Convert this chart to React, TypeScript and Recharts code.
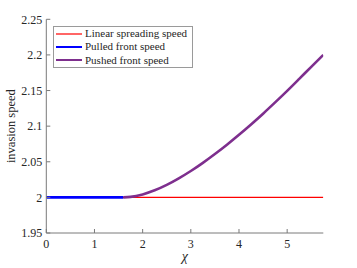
import React from 'react';
import { LineChart, Line, XAxis, YAxis, Legend } from 'recharts';

const linearX = [0, 5.75];
const linearY = [2, 2];
const pulledX = [0, 1.6];
const pulledY = [2, 2];
const pushedX = [1.6, 1.75, 2.0, 2.25, 2.5, 2.75, 3.0, 3.25, 3.5, 3.75, 4.0, 4.25, 4.5, 4.75, 5.0, 5.25, 5.5, 5.75];
const pushedY = [2.0, 2.0007, 2.0042, 2.0099, 2.0175, 2.0267, 2.037, 2.0485, 2.0609, 2.074, 2.0879, 2.1024, 2.1175, 2.1333, 2.1495, 2.1663, 2.1833, 2.2];
const xTicks = [0, 1, 2, 3, 4, 5];
const yTicks = [1.95, 2, 2.05, 2.1, 2.15, 2.2, 2.25];
const seriesNames = ['Linear spreading speed', 'Pulled front speed', 'Pushed front speed'];
const seriesColors = ['#ff0000', '#0000ff', '#7e2f8e'];
const legendColors = ['#ff6666', '#0000ff', '#7e2f8e'];
const seriesWidths = [1.3, 2.6, 2.6];

const zip = (xs: number[], ys: number[]) => xs.map((x, i) => ({ x, y: ys[i] }));
const linearData = zip(linearX, linearY);
const pulledData = zip(pulledX, pulledY);
const pushedData = zip(pushedX, pushedY);

const FONT = 'Liberation Serif';
const AXIS = '#7a7a7a';
const TEXT = '#262626';

const LegendBox = () => (
  <div
    style={{
      border: '1px solid #9a9a9a',
      background: '#fff',
      width: 138,
      height: 40,
      boxSizing: 'content-box',
      fontFamily: FONT,
      fontSize: 11,
      color: TEXT,
    }}
  >
    {seriesNames.map((n, i) => (
      <div key={n} style={{ display: 'flex', alignItems: 'center', height: 13.4, lineHeight: '13.4px' }}>
        <svg width={30} height={6} style={{ marginLeft: 1 }}>
          <line x1={1} x2={27} y1={3} y2={3} stroke={legendColors[i]} strokeWidth={2} />
        </svg>
        <span style={{ whiteSpace: 'nowrap' }}>{n}</span>
      </div>
    ))}
  </div>
);

export default function App() {
  return (
    <div style={{ position: 'absolute', left: 0, top: 0, fontFamily: FONT }}>
      <LineChart
        width={357}
        height={268}
        margin={{ top: 19.3, right: 33.7, bottom: 10, left: 10.3 }}
        style={{ fontFamily: FONT }}
      >
        <XAxis
          xAxisId="b"
          type="number"
          dataKey="x"
          domain={[0, 5.75]}
          ticks={xTicks}
          allowDataOverflow
          height={25}
          stroke={AXIS}
          tickSize={-4}
          tickMargin={10}
          tick={{ fill: TEXT, fontFamily: FONT, fontSize: 12 }}
          label={{ value: 'χ', position: 'bottom', offset: -7, style: { fontFamily: FONT, fontSize: 14, fontStyle: 'italic', fill: TEXT } }}
        />
        <XAxis
          xAxisId="t"
          orientation="top"
          type="number"
          dataKey="x"
          domain={[0, 5.75]}
          ticks={xTicks}
          allowDataOverflow
          height={0}
          stroke={AXIS}
          tickSize={-4}
          tick={false}
        />
        <YAxis
          yAxisId="l"
          type="number"
          domain={[1.95, 2.25]}
          ticks={yTicks}
          allowDataOverflow
          width={36}
          stroke={AXIS}
          tickSize={-4}
          tickMargin={8}
          tick={{ fill: TEXT, fontFamily: FONT, fontSize: 12 }}
          label={{ value: 'invasion speed', angle: -90, position: 'insideLeft', offset: 0.5, style: { textAnchor: 'middle', fontFamily: FONT, fontSize: 12.5, fill: TEXT } }}
        />
        <YAxis
          yAxisId="r"
          orientation="right"
          type="number"
          domain={[1.95, 2.25]}
          ticks={yTicks}
          allowDataOverflow
          width={0}
          stroke={AXIS}
          tickSize={-4}
          tick={false}
        />
        <Legend
          layout="vertical"
          align="center"
          verticalAlign="middle"
          content={<LegendBox />}
          wrapperStyle={{ left: 53, top: 26, width: 140, height: 42 }}
        />
        <Line xAxisId="b" yAxisId="l" data={linearData} dataKey="y" name={seriesNames[0]} stroke={seriesColors[0]} strokeWidth={seriesWidths[0]} dot={false} isAnimationActive={false} type="linear" />
        <Line xAxisId="b" yAxisId="l" data={pulledData} dataKey="y" name={seriesNames[1]} stroke={seriesColors[1]} strokeWidth={seriesWidths[1]} dot={false} isAnimationActive={false} type="linear" />
        <Line xAxisId="b" yAxisId="l" data={pushedData} dataKey="y" name={seriesNames[2]} stroke={seriesColors[2]} strokeWidth={seriesWidths[2]} dot={false} isAnimationActive={false} type="monotone" />
      </LineChart>
    </div>
  );
}
